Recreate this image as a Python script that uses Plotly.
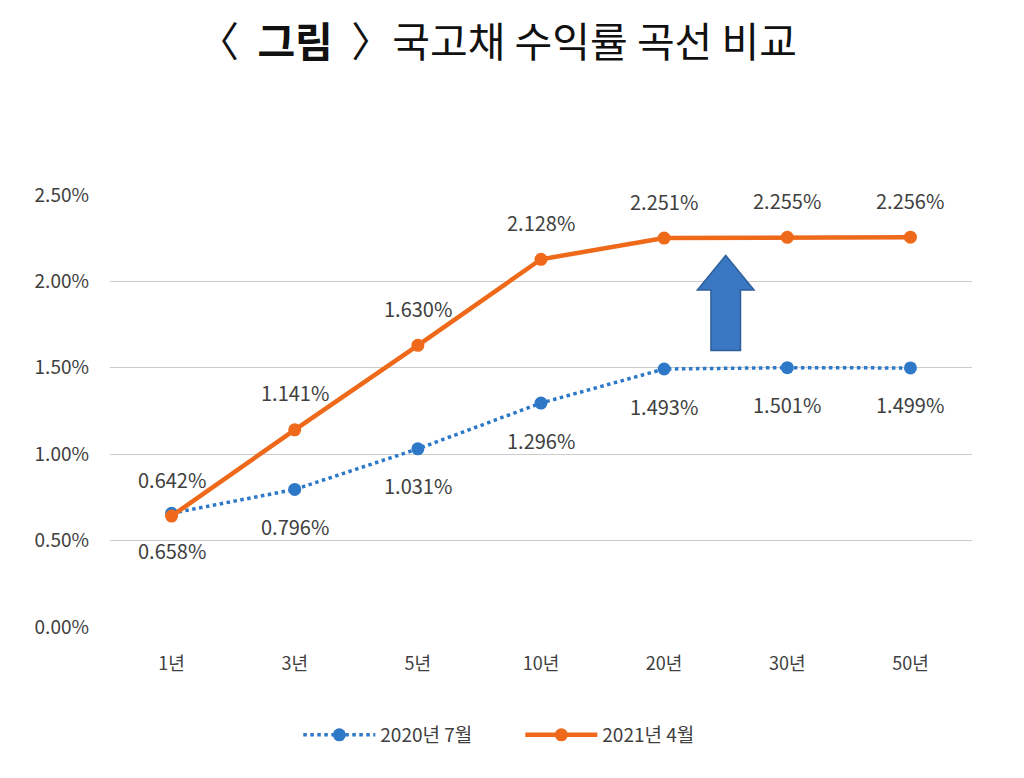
import plotly.graph_objects as go

categories = ["1년", "3년", "5년", "10년", "20년", "30년", "50년"]
yield_2020_07 = [0.658, 0.796, 1.031, 1.296, 1.493, 1.501, 1.499]
yield_2021_04 = [0.642, 1.141, 1.630, 2.128, 2.251, 2.255, 2.256]
series_names = ["2020년 7월", "2021년 4월"]
y_ticks = [0.0, 0.5, 1.0, 1.5, 2.0, 2.5]
y_tick_labels = ["0.00%", "0.50%", "1.00%", "1.50%", "2.00%", "2.50%"]
title_text = "〈  <b>그림</b>  〉국고채 수익률 곡선 비교"

FONT = "Noto Sans CJK KR"
BLUE = "#2E78C8"
ORANGE = "#EE6A1A"
LABEL = "#404040"

fig = go.Figure()
fig.add_trace(go.Scatter(
    x=categories, y=yield_2020_07, name=series_names[0], mode="lines+markers",
    line=dict(color=BLUE, width=3.5, dash="dot"),
    marker=dict(color=BLUE, size=13),
))
fig.add_trace(go.Scatter(
    x=categories, y=yield_2021_04, name=series_names[1], mode="lines+markers",
    line=dict(color=ORANGE, width=4.5),
    marker=dict(color=ORANGE, size=13),
))

annotations = []
for c, v in zip(categories, yield_2021_04):
    annotations.append(dict(x=c, y=v, text=f"{v:.3f}%", showarrow=False, yshift=37,
                            font=dict(family=FONT, size=20, color=LABEL)))
for c, v in zip(categories, yield_2020_07):
    annotations.append(dict(x=c, y=v, text=f"{v:.3f}%", showarrow=False, yshift=-37,
                            font=dict(family=FONT, size=20, color=LABEL)))
annotations.append(dict(x=0.45, y=1.362, xref="paper", yref="paper", xanchor="center", yanchor="middle",
                        text=title_text, showarrow=False,
                        font=dict(family=FONT, size=41, color="#111111")))

# Blue block arrow between 20년 and 30년 (index 4.5), data coordinates
ax = 4.5
shaft_hw = 0.12
head_hw = 0.23
y0, yh, yt = 1.60, 1.95, 2.15
path = (f"M {ax-shaft_hw},{y0} L {ax-shaft_hw},{yh} L {ax-head_hw},{yh} L {ax},{yt} "
        f"L {ax+head_hw},{yh} L {ax+shaft_hw},{yh} L {ax+shaft_hw},{y0} Z")
fig.add_shape(type="path", path=path, xref="x", yref="y",
              fillcolor="#3A78C4", line=dict(color="#2F5F9A", width=1.5))

fig.update_layout(
    width=1024, height=778,
    paper_bgcolor="white", plot_bgcolor="white",
    margin=dict(l=102, r=60, t=187, b=159),
    font=dict(family=FONT, color=LABEL),
    showlegend=True,
    legend=dict(orientation="h", x=0.476, xanchor="center", y=-0.25, yanchor="middle",
                font=dict(family=FONT, size=19, color=LABEL), itemwidth=72,
                entrywidth=135, entrywidthmode="pixels",
                traceorder="normal"),
    annotations=annotations,
)

fig.update_xaxes(type="category", range=[-0.5, 6.5], showgrid=False, showline=False,
                 ticks="", ticklabelstandoff=24, tickfont=dict(family=FONT, size=18, color=LABEL))
fig.update_yaxes(range=[0, 2.5], tickvals=y_ticks, ticktext=y_tick_labels,
                 showgrid=True, gridcolor="#CCCCCC", gridwidth=1.2, zeroline=False,
                 showline=False, ticks="", ticklabelstandoff=20,
                 tickfont=dict(family=FONT, size=19, color=LABEL))

fig.write_html("out.html")
